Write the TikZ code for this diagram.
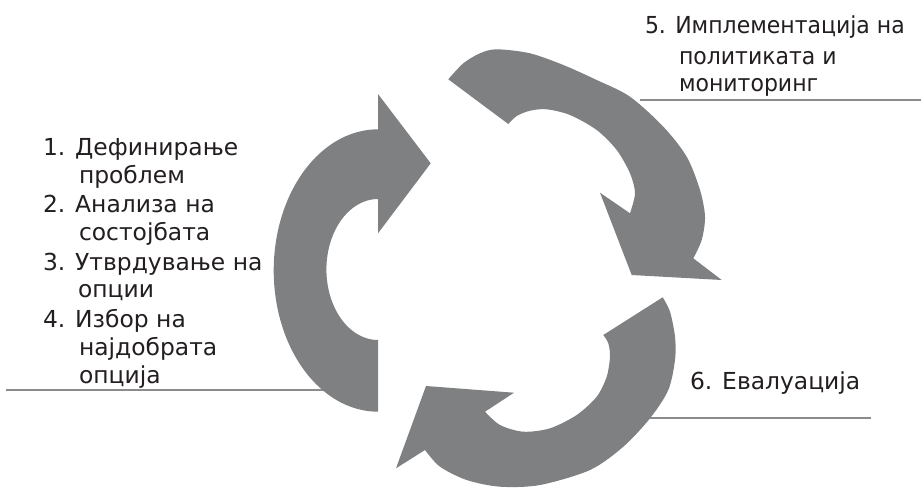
\documentclass[tikz,border=0pt]{standalone}
\usepackage{fontspec}
\usepackage{graphicx}
\setmainfont{DejaVu Sans}
\definecolor{arrowgray}{RGB}{127,128,130}
\definecolor{linegray}{RGB}{140,140,140}
\definecolor{txtcol}{RGB}{35,31,32}
\newcommand{\narrowtxt}[1]{\scalebox{0.94}[1]{#1}}
\begin{document}
\begin{tikzpicture}[x=1pt,y=-1pt,
  cyc/.style={fill=arrowgray},
  leader/.style={draw=linegray,line width=1.6pt},
  lbl/.style={anchor=base west,inner sep=0pt,outer sep=0pt,text=txtcol,font=\fontsize{23.4}{28}\selectfont}]
\fill[white] (0,0) rectangle (921,488);
\useasboundingbox (0,0) rectangle (921,488);

% leader lines
\coordinate (l1a) at (6,390);   \coordinate (l1b) at (330,390);
\coordinate (l2a) at (640,100); \coordinate (l2b) at (921,100);
\coordinate (l3a) at (645,418); \coordinate (l3b) at (871,418);
\draw[leader] (l1a) -- (l1b);
\draw[leader] (l2a) -- (l2b);
\draw[leader] (l3a) -- (l3b);

% arrow 1 (left)
\fill[cyc] (378,411.7)
  -- plot[domain=90:270,samples=80] ({378+104.3*cos(\x)},{270.5+141.2*sin(\x)})
  -- (378,94) -- (430.7,163.3) -- (378,233.3) -- (378,199)
  -- plot[domain=270:90,samples=80] ({378+51.6*cos(\x)},{269.5+70.5*sin(\x)})
  -- cycle;

% arrow 2 (top right)
\fill[cyc] plot[smooth] coordinates {(448.3,79.3) (463.3,63.3) (480,53.3) (496.7,49.3) (530,53.3) (563.3,65) (596.7,80) (630,96.7) (663.3,126.7) (686.7,156.7) (700,190) (705,216.7) (701.7,240) (693.3,258.3)}
  -- (721.7,280) -- (631.7,275) -- (600,192.7)
  -- plot[smooth] coordinates {(630,213.3) (635,193.3) (630,173.3) (616.7,150) (596.7,130) (570,115) (546.7,109.3) (530,110.7) (516.7,116) (508.3,124)}
  -- cycle;

% arrow 3 (bottom)
\fill[cyc] plot[smooth] coordinates {(662.7,297.3) (670,311.7) (675,336.7) (675,360) (668.3,390) (650,418.3) (623.3,446.7) (590,470) (540,485) (500,486.7) (466.7,480) (440,466.7) (425,450)}
  -- (396,468.3) -- (426,386) -- (514,392.7)
  -- plot[smooth] coordinates {(485,411.7) (500,425) (523.3,431.7) (550,428.3) (576.7,415) (596.7,396.7) (606.7,376.7) (610,356.7) (608.3,343.3) (603.3,335)}
  -- cycle;

% texts
\node[lbl] (t1)  at (43,155) {1. Дефинирање};
\node[lbl] (t1b) at (79,183) {проблем};
\node[lbl] (t2)  at (43,212) {2. Анализа на};
\node[lbl] (t2b) at (79,240) {состојбата};
\node[lbl] (t3)  at (43,270) {3. Утврдување на};
\node[lbl] (t3b) at (78,297) {опции};
\node[lbl] (t4)  at (43,327) {4. Избор на};
\node[lbl] (t4b) at (79,355) {најдобрата};
\node[lbl] (t4c) at (79,383) {опција};
\node[lbl] (t5)  at (645,33) {\narrowtxt{5. Имплементација на}};
\node[lbl] (t5b) at (679,64) {\narrowtxt{политиката и}};
\node[lbl] (t5c) at (679,91) {\narrowtxt{мониторинг}};
\node[lbl] (t6)  at (690,389) {6. Евалуација};
\end{tikzpicture}
\end{document}
